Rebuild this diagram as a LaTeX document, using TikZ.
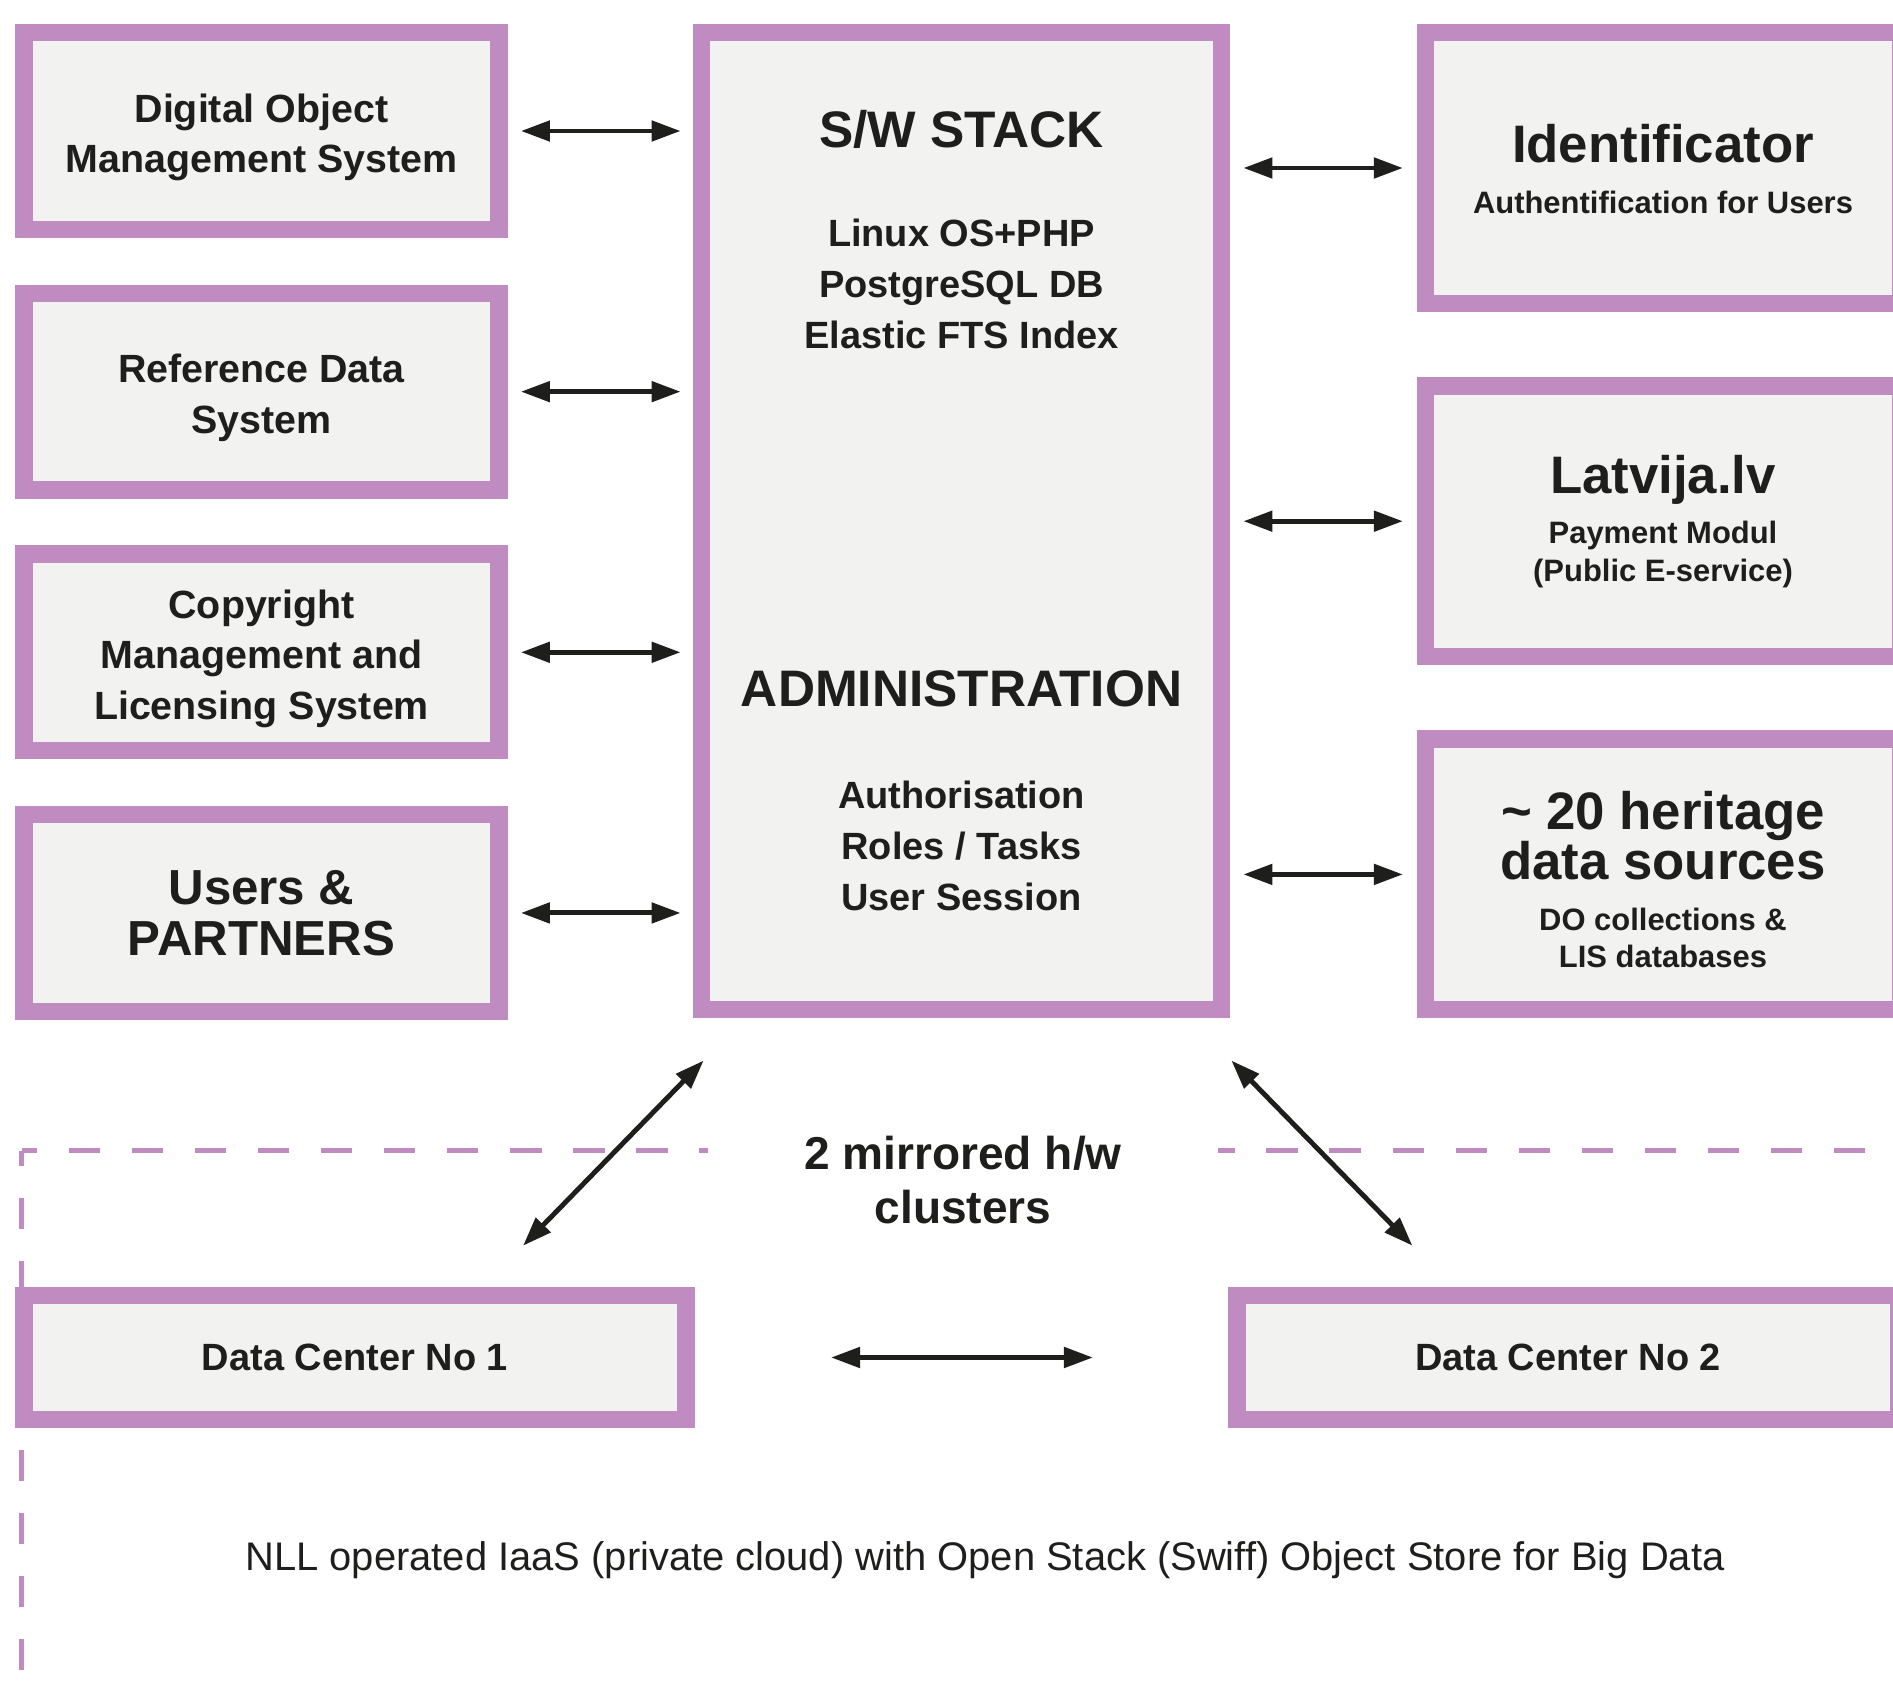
\documentclass[tikz,border=0pt]{standalone}
\usepackage{fontspec}
\setmainfont{Liberation Sans}
\usetikzlibrary{arrows.meta,positioning}
\definecolor{lilac}{HTML}{BF8BC0}
\definecolor{boxgray}{HTML}{F2F2F1}
\definecolor{ink}{HTML}{1E1E1C}
\newcommand{\bighead}{\fontsize{15}{14.4}\selectfont}
\newcommand{\smalltxt}{\fontsize{8.8}{10.6}\selectfont}
\newcommand{\padtop}[1]{\rule{0pt}{#1}}
\tikzset{
        box/.style={draw=lilac, fill=boxgray, line width=4.98pt, outer sep=0pt, inner sep=4pt, align=center, text=ink, font=\bfseries\fontsize{11.2}{14.4}\selectfont},
        sidebox/.style={box, minimum width=4.745cm, minimum height=1.965cm},
        rightbox/.style={box, minimum width=4.745cm, minimum height=2.705cm},
        dcbox/.style={box, minimum width=6.615cm, minimum height=1.235cm, font=\bfseries\fontsize{10.8}{13}\selectfont},
        head/.style={text=ink, font=\bfseries\fontsize{14.6}{17}\selectfont},
        body/.style={text=ink, align=center, font=\bfseries\fontsize{10.8}{14.4}\selectfont},
        link/.style={draw=ink, line width=1.4pt, <->, >={Triangle[length=2.9mm, width=2mm]}},
        fence/.style={draw=lilac, line width=1.5pt, dash pattern=on 0.315cm off 0.315cm, dash phase=0.16cm},
        note/.style={text=ink, font=\fontsize{11.35}{13.6}\selectfont}
          }
\begin{document}
\begin{tikzpicture}[x=0.01cm, y=-0.01cm]
        \useasboundingbox (0,0) rectangle (1893,1682);

        \draw[fence] (21.7,1150.5) -- (1900,1150.5);
        \draw[fence] (21.7,1150.5) -- (21.7,1700);
        \node[text=ink, fill=white, align=center, minimum width=5.1cm, font=\bfseries\fontsize{13.1}{15.5}\selectfont] (hw) at (963,1180) {2 mirrored h/w\\clusters};

        \node[box, minimum width=5.195cm, minimum height=9.765cm] (stack) at (961.5,521) {};
        \node[head] (swhead) at (961.5,129) {S/W STACK};
        \node[body] (swbody) at (961.5,284) {Linux OS+PHP\\PostgreSQL DB\\Elastic FTS Index};
        \node[head] (adhead) at (961.5,689) {ADMINISTRATION};
        \node[body] (adbody) at (961.5,846) {Authorisation\\Roles / Tasks\\User Session};

        \node[sidebox] (doms) at (261.5,131) {\padtop{11.8pt}Digital Object\\Management System};
        \node[sidebox, below=0.64cm of doms] (refdata) {\padtop{11.8pt}Reference Data\\System};
        \node[sidebox, below=0.64cm of refdata] (copyright) {\padtop{11.8pt}Copyright\\Management and\\Licensing System};
        \node[sidebox, below=0.64cm of copyright, font=\bfseries\fontsize{14}{14.4}\selectfont] (users) {Users \&\\PARTNERS};

        \node[rightbox] (ident) at (1663,168) {\padtop{11.6pt}{\bighead Identificator}\\{\smalltxt Authentification for Users}};
        \node[rightbox, below=0.825cm of ident] (latvija) {{\bighead Latvija.lv}\\{\smalltxt Payment Modul}\\[-3.8pt]{\smalltxt (Public E-service)}};
        \node[rightbox, below=0.825cm of latvija] (heritage) {\padtop{13.8pt}{\bighead \textasciitilde{} 20 heritage}\\{\bighead data sources}\\{\smalltxt DO collections \&}\\[-3.8pt]{\smalltxt LIS databases}};

        \node[dcbox] (dc1) at (355,1357.5) {Data Center No 1};
        \node[dcbox] (dc2) at (1568,1357.5) {Data Center No 2};
        \node[note] (iaas) at (985,1560) {NLL operated IaaS (private cloud) with Open Stack (Swiff) Object Store for Big Data};

        \foreach \n in {doms,refdata,copyright,users}
          \draw[link, shorten <=0.22cm, shorten >=0.21cm] (\n.east) -- (\n.east -| stack.west);
        \foreach \n in {ident,latvija,heritage}
          \draw[link, shorten <=0.22cm, shorten >=0.227cm] (\n.west -| stack.east) -- (\n.west);
        \draw[link] ([xshift=0.02cm, yshift=-0.51cm]stack.south west) -- ([xshift=1.68cm, yshift=0.5cm]dc1.north);
        \draw[link] ([xshift=0.1cm, yshift=-0.51cm]stack.south east) -- ([xshift=-1.555cm, yshift=0.5cm]dc2.north);
        \draw[link, shorten <=1.45cm, shorten >=1.44cm] (dc1.east) -- (dc2.west);
\end{tikzpicture}
\end{document}
